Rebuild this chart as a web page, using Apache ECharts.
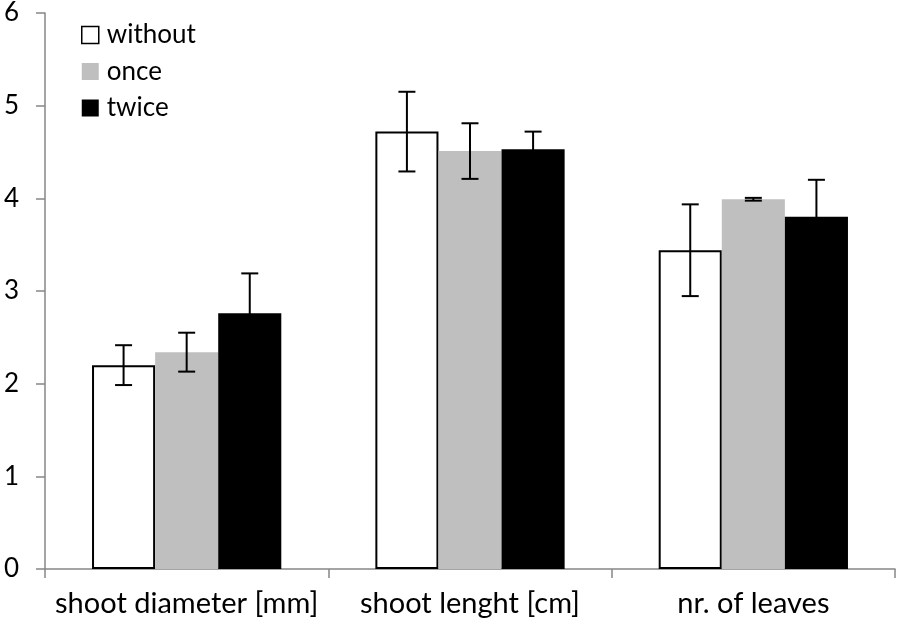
<!DOCTYPE html>
<html><head><meta charset="utf-8">
<script src="https://cdn.jsdelivr.net/npm/echarts@6/dist/echarts.min.js"></script>
<style>html,body{margin:0;padding:0;background:#fff}#c{width:899px;height:626px}</style>
</head><body><div id="c"></div>
<script>
const categories = ['shoot diameter [mm]', 'shoot lenght [cm]', 'nr. of leaves'];
const seriesNames = ['without', 'once', 'twice'];
const withoutVals = [2.20, 4.72, 3.44];
const onceVals = [2.34, 4.51, 3.99];
const twiceVals = [2.76, 4.53, 3.80];
const withoutErr = [0.215, 0.43, 0.495];
const onceErr = [0.21, 0.30, 0.015];
const twiceErr = [0.43, 0.19, 0.40];
const yTicks = [0, 1, 2, 3, 4, 5, 6];

const vals = [withoutVals, onceVals, twiceVals];
const errs = [withoutErr, onceErr, twiceErr];
const colors = ['#ffffff', '#bfbfbf', '#000000'];
const CAT_GAP = 0.332;
const FONT = 'Lato, "Liberation Sans", sans-serif';

const chart = echarts.init(document.getElementById('c'));
const series = [];
seriesNames.forEach((n, i) => {
  series.push({
    name: n, type: 'bar', data: vals[i], barGap: '0%', barCategoryGap: (CAT_GAP*100)+'%',
    itemStyle: { color: colors[i], borderColor: i === 0 ? '#000' : colors[i], borderWidth: i === 0 ? 2 : 0 },
    emphasis: { disabled: true }
  });
});
const errData = [];
for (let i = 0; i < 3; i++) for (let c = 0; c < 3; c++) errData.push([c, vals[i][c], errs[i][c], i]);
series.push({
  type: 'custom', data: errData, z: 10, silent: true,
  renderItem: function (params, api) {
    const c = api.value(0), v = api.value(1), e = api.value(2), s = api.value(3);
    const band = api.size([1, 0])[0];
    const bw = band * (1 - CAT_GAP) / 3;
    const center = api.coord([c, v]);
    const x = center[0] + (s - 1) * bw;
    const yTop = api.coord([c, v + e])[1];
    const yBot = api.coord([c, v - e])[1];
    const cap = 8.5;
    const st = { stroke: '#000', lineWidth: 2 };
    return { type: 'group', children: [
      { type: 'line', shape: { x1: x, y1: yTop, x2: x, y2: yBot }, style: st },
      { type: 'line', shape: { x1: x - cap, y1: yTop, x2: x + cap, y2: yTop }, style: st },
      { type: 'line', shape: { x1: x - cap, y1: yBot, x2: x + cap, y2: yBot }, style: st }
    ]};
  }
});

chart.setOption({
  animation: false,
  backgroundColor: '#fff',
  grid: { left: 45, right: 4, top: 13, bottom: 57, containLabel: false },
  legend: {
    data: seriesNames.map((n, i) => ({ name: n, itemStyle: { color: colors[i], borderColor: '#000', borderWidth: i === 0 ? 1.5 : 0 } })),
    orient: 'vertical', left: 76, top: 17, itemWidth: 17, itemHeight: 17, itemGap: 10.5, icon: 'rect',
    textStyle: { fontFamily: FONT, fontSize: 26, color: '#000', padding: [0, 0, 0, 3] }
  },
  xAxis: {
    type: 'category', data: categories,
    axisLine: { lineStyle: { color: '#868686', width: 1.5 } },
    axisTick: { show: true, alignWithLabel: false, length: 9, lineStyle: { color: '#868686', width: 1.5 } },
    axisLabel: { fontFamily: FONT, fontSize: 29, color: '#000', margin: 20, interval: 0 }
  },
  yAxis: {
    type: 'value', min: yTicks[0], max: yTicks[yTicks.length - 1], interval: 1,
    splitLine: { show: false },
    axisLine: { show: true, lineStyle: { color: '#868686', width: 1.5 } },
    axisTick: { show: true, length: 9, lineStyle: { color: '#868686', width: 1.5 } },
    axisLabel: { fontFamily: FONT, fontSize: 26, color: '#000', margin: 26 }
  },
  series: series
});
</script></body></html>
